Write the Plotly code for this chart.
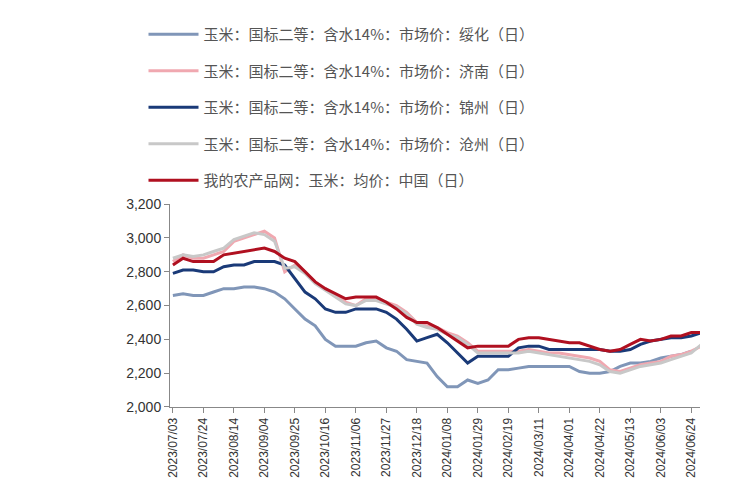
import plotly.graph_objects as go
import pandas as pd

names = ["玉米：国标二等：含水14%：市场价：绥化（日）",
         "玉米：国标二等：含水14%：市场价：济南（日）",
         "玉米：国标二等：含水14%：市场价：锦州（日）",
         "玉米：国标二等：含水14%：市场价：沧州（日）",
         "我的农产品网：玉米：均价：中国（日）"]
colors = ["#8096b8", "#f0a8b0", "#1a3a78", "#c8c8c8", "#b01020"]

suihua = [2660,2670,2660,2660,2680,2700,2700,2710,2710,2700,2680,2640,2580,2520,2480,2400,2360,2360,2360,2380,2390,2350,2330,2280,2270,2260,2180,2120,2120,2160,2140,2160,2220,2220,2230,2240,2240,2240,2240,2240,2210,2200,2200,2210,2240,2260,2260,2270,2290,2300,2310,2330]
jinan = [2860,2900,2880,2880,2900,2920,2980,3000,3020,3040,3000,2800,2840,2800,2740,2700,2660,2620,2600,2640,2640,2620,2600,2560,2500,2480,2470,2440,2420,2380,2330,2330,2330,2330,2330,2340,2330,2320,2320,2310,2300,2290,2270,2220,2210,2230,2250,2260,2270,2300,2310,2330,2360]
jinzhou = [2790,2810,2810,2800,2800,2830,2840,2840,2860,2860,2860,2840,2760,2680,2640,2580,2560,2560,2580,2580,2580,2560,2520,2460,2390,2410,2430,2380,2320,2260,2300,2300,2300,2300,2350,2360,2360,2340,2340,2340,2340,2340,2340,2330,2330,2340,2370,2390,2400,2410,2410,2420,2440]
cangzhou = [2880,2900,2890,2900,2920,2940,2990,3010,3030,3020,2980,2820,2830,2790,2730,2690,2650,2610,2600,2630,2630,2610,2590,2550,2490,2470,2460,2430,2410,2370,2320,2320,2320,2320,2320,2330,2320,2310,2300,2290,2280,2270,2250,2210,2200,2220,2240,2250,2260,2280,2300,2320,2370]
china = [2840,2880,2860,2860,2860,2900,2910,2920,2930,2940,2920,2880,2860,2800,2740,2700,2670,2640,2650,2650,2650,2620,2580,2530,2500,2500,2470,2430,2390,2350,2360,2360,2360,2360,2400,2410,2410,2400,2390,2380,2380,2360,2340,2330,2340,2370,2400,2390,2400,2420,2420,2440,2440]

tick_dates = ["2023/07/03","2023/07/24","2023/08/14","2023/09/04","2023/09/25","2023/10/16","2023/11/06","2023/11/27","2023/12/18","2024/01/08","2024/01/29","2024/02/19","2024/03/11","2024/04/01","2024/04/22","2024/05/13","2024/06/03","2024/06/24"]
y_ticks = [2000,2200,2400,2600,2800,3000,3200]

fig = go.Figure()
for i, (nm, col, vals) in enumerate(zip(names, colors, [suihua, jinan, jinzhou, cangzhou, china])):
    x = pd.date_range("2023-07-03", periods=len(vals), freq="7D")
    fig.add_trace(go.Scatter(x=x, y=vals, name=nm, mode="lines", legendgroup=f"g{i}",
                             line=dict(color=col, width=3)))

fig.update_layout(
    width=750, height=500, plot_bgcolor="white", paper_bgcolor="white",
    margin=dict(l=162, r=58, t=10, b=101),
    font=dict(family="Noto Sans CJK SC", color="#555", size=14),
    legend=dict(x=-0.05, y=1.04, yanchor="top", xanchor="left",
                font=dict(size=15), tracegroupgap=14, itemwidth=50),
    showlegend=True,
)
fig.update_xaxes(type="date", range=["2023-07-01", "2024-06-30"], automargin=False,
                 tickvals=pd.to_datetime(tick_dates), ticktext=tick_dates, tickangle=-90,
                 showline=True, linecolor="#888", ticks="outside", tickcolor="#888", showgrid=False,
                 tickfont=dict(size=12, family="Liberation Sans", color="#333"))
fig.update_yaxes(range=[2000, 3200], tickvals=y_ticks, ticktext=[f"{v:,}" for v in y_ticks],
                 domain=[0, 211/389], automargin=False,
                 showline=True, linecolor="#888", ticks="outside", tickcolor="#888", showgrid=False,
                 tickfont=dict(size=14, family="Liberation Sans", color="#333"))
fig.write_html("out.html")
